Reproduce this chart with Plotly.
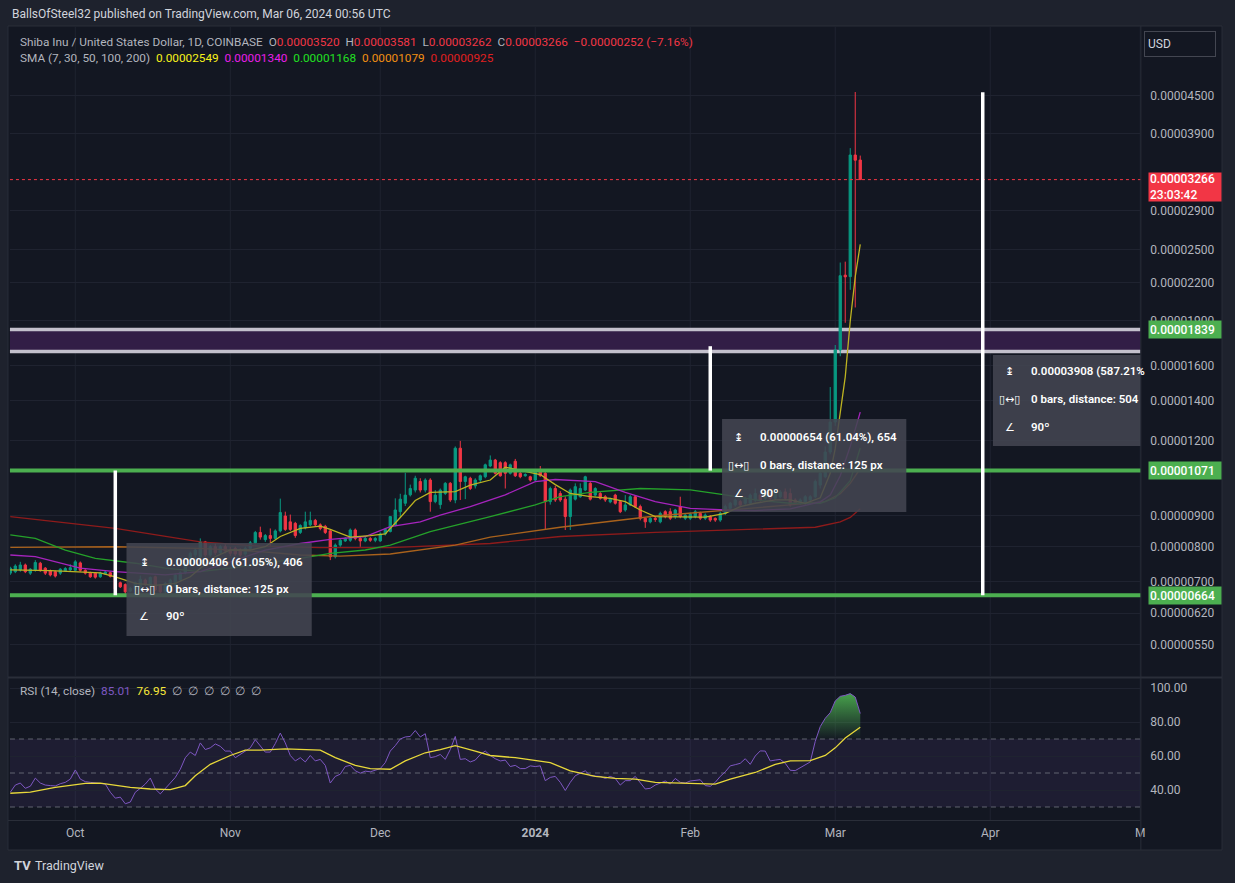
import math
import pandas as pd
import plotly.graph_objects as go

W, H = 1235, 883
def px(x): return x / W
def py(y): return 1 - y / H

# ---------------- data (prices in units of 1e-8 USD) ----------------
SC = 1e-8
START = '2023-09-18'
opens = [723,727,732,746,723,732,751,737,730,727,
         723,730,732,731,752,731,723,723,713,721,
         724,720,697,692,675,680,686,704,688,713,
         690,673,686,686,705,724,751,775,770,815,
         775,800,782,800,787,795,790,778,795,812,
         845,822,835,826,850,900,880,875,845,860,
         870,885,870,865,850,770,805,818,820,853,
         826,818,826,820,818,840,848,870,915,945,
         976,994,1027,994,1033,951,940,981,1020,957,
         1167,1027,1040,1010,1033,1046,1090,1115,1104,1104,
         1060,1110,1060,1050,1046,1033,1073,1060,951,1000,
         981,960,898,960,969,994,1020,975,981,969,
         950,975,951,921,939,969,933,892,880,892,
         880,915,915,898,933,892,892,898,909,892,
         898,892,886,909,927,939,951,945,945,957,
         975,963,981,963,969,987,981,957,945,945,
         957,969,1013,1046,1150,1290,1700,2265,2252,3589,
         3520]
highs = [741,748,755,750,737,760,755,740,733,730,
         737,740,748,760,756,734,727,726,727,730,
         727,722,700,695,686,700,716,708,714,716,
         693,699,708,722,728,755,785,795,826,818,
         805,810,805,808,800,800,795,800,818,850,
         864,840,858,855,962,915,905,880,872,915,
         915,890,875,870,853,810,824,830,858,858,
         832,832,830,830,845,860,900,963,980,1062,
         1015,1050,1040,1040,1040,994,1000,1025,1025,1175,
         1200,1050,1046,1040,1055,1100,1135,1120,1110,1110,
         1100,1120,1070,1060,1050,1075,1090,1065,1007,1010,
         990,970,1000,1020,1020,1050,1025,1005,990,975,
         965,980,955,975,975,975,940,895,898,898,
         915,920,927,925,969,910,912,921,915,909,
         903,895,915,940,950,963,957,969,981,1000,
         981,994,987,1000,994,1000,1000,963,963,975,
         975,1035,1080,1175,1475,1733,2377,2385,3685,4569,
         3581]
lows = [718,723,727,723,718,727,727,718,714,711,
        718,727,729,728,727,719,710,708,710,718,
        711,666,683,668,672,677,683,688,685,675,
        668,665,683,683,700,720,745,765,765,768,
        770,775,778,780,772,772,770,772,790,808,
        822,815,800,822,845,850,850,828,840,855,
        865,865,852,840,760,765,800,815,815,820,
        800,814,815,814,815,835,845,865,895,935,
        970,985,985,985,915,945,925,975,950,945,
        957,960,994,1000,1025,1040,1085,1055,1046,1000,
        1055,1045,1040,1046,1027,1027,1046,853,940,950,
        950,853,853,955,965,990,955,970,958,950,
        945,940,910,915,935,928,885,860,875,880,
        875,892,886,890,892,886,886,892,886,886,
        880,880,880,903,920,933,933,939,939,950,
        950,957,957,957,963,957,933,939,939,939,
        950,963,1000,1040,1140,1271,1660,1887,2141,2001,
        3262]
closes = [737,743,746,727,734,753,730,723,718,715,
          734,736,738,755,731,723,713,712,723,726,
          714,680,686,673,682,697,706,692,711,678,
          673,695,704,718,724,751,780,790,815,775,
          800,782,800,787,780,778,775,795,812,845,
          830,835,826,850,912,855,855,835,868,880,
          885,870,858,845,770,805,820,826,853,826,
          818,826,820,826,840,855,898,921,960,975,
          1000,1040,994,1033,951,975,994,1020,957,1167,
          1027,1046,1000,1033,1050,1095,1115,1060,1050,1060,
          1095,1050,1046,1055,1033,1070,1050,951,1000,957,
          957,898,994,1007,1000,1046,960,1000,963,957,
          960,945,915,939,969,933,892,880,892,888,
          909,898,892,921,898,903,906,915,892,903,
          886,886,909,933,945,957,939,963,975,981,
          957,987,963,994,987,963,939,945,957,969,
          969,1027,1060,1150,1290,1700,2260,2250,3589,3518,
          3266]

# moving averages (day index since START, value in 1e-8)
sma7_idx = [0,8,18,21,25,29,33,36,38,41,44,48,51,54,58,62,64,66,68,72,75,78,81,84,89,92,96,99,102,106,
            109,112,116,120,123,126,129,136,139,143,146,149,153,156,159,162,164,165,166,167,168,169,170]
sma7_val = [732,730,724,713,695,690,695,713,737,770,790,790,800,832,858,866,855,843,830,835,840,895,955,985,988,1013,1033,1085,1073,1055,
            1015,981,969,963,951,921,898,896,896,909,933,945,957,957,945,965,1060,1166,1351,1534,1900,2251,2549]
sma30_idx = [0,5,14,21,31,38,44,51,58,64,71,76,82,86,92,99,105,109,117,123,129,136,143,149,156,162,164,166,168,170]
sma30_val = [775,770,737,727,718,727,755,790,810,823,832,864,880,903,933,976,1027,1035,1027,985,951,927,921,919,925,950,975,1050,1175,1340]
sma50_idx = [0,5,11,17,25,31,38,44,51,58,64,71,76,82,84,96,105,110,116,126,136,143,149,156,162,165,168,170]
sma50_val = [837,826,790,765,751,737,727,737,751,765,780,790,805,837,848,898,939,969,985,1000,995,976,957,945,945,965,1030,1168]
sma100_idx = [0,21,38,50,58,66,76,89,96,110,129,143,156,163,166,168,170]
sma100_val = [798,800,795,785,775,772,778,805,830,862,900,919,939,951,980,1020,1079]
sma200_idx = [0,21,38,50,62,76,96,110,129,149,161,166,168,170]
sma200_val = [898,858,815,802,797,797,810,832,845,855,862,880,895,925]

rsi = [38.7,42.9,44.1,41.0,42.2,47.0,44.1,42.9,42.6,42.4,
       43.7,44.5,46.4,51.8,46.4,44.9,44.5,44.3,44.1,43.5,
       38.7,35.2,35.8,31.9,32.9,38.7,41.0,43.5,47.0,40.6,
       37.7,40.6,44.1,47.4,52.2,59.0,62.3,60.3,67.7,63.8,
       64.8,67.1,65.7,62.9,62.9,59.0,60.9,62.9,64.8,69.6,
       65.7,62.3,62.3,67.3,73.5,67.7,60.3,57.1,59.0,56.5,
       60.3,57.1,58.0,54.5,44.1,48.0,49.3,53.8,54.5,51.3,
       49.9,51.1,50.7,51.8,52.6,56.1,62.9,66.1,70.0,71.2,
       71.5,75.0,71.2,73.1,59.0,59.6,60.9,58.0,63.8,71.5,
       58.0,58.4,56.5,57.6,60.9,62.9,60.3,58.4,57.1,57.6,
       53.8,54.5,52.6,52.6,54.2,53.8,54.2,45.5,47.4,48.0,
       44.5,39.7,44.5,48.4,49.9,51.3,48.4,48.4,48.0,46.8,
       48.0,46.8,42.9,45.5,45.5,48.0,44.1,40.6,41.0,42.9,
       44.1,45.3,43.5,46.8,44.5,44.1,45.3,45.8,46.0,42.6,
       42.2,44.5,48.0,50.7,54.2,54.9,55.7,58.4,55.1,60.0,
       63.0,62.9,57.1,57.6,58.0,55.7,51.6,51.4,53.2,54.5,
       56.5,68.6,77.3,82.2,85.5,92.4,95.1,95.7,96.7,94.7,
       85.01]
rsi_ma_idx = [0,4,9,13,15,18,21,24,28,32,35,37,40,44,47,50,55,58,62,65,69,72,76,79,83,86,89,93,96,101,
              104,108,112,117,121,125,129,135,141,144,149,153,156,160,163,165,167,170]
rsi_ma_val = [38.1,38.7,41.6,42.9,43.9,44.1,42.9,41.6,40.6,40.2,42.6,48.4,55.1,60.3,63.4,63.4,64.2,63.8,63.4,59.0,
              54.5,52.6,52.2,57.1,61.9,63.8,66.1,62.9,60.3,59.0,57.6,56.1,51.3,48.0,46.8,46.4,44.5,44.1,43.5,46.4,
              50.3,55.1,57.1,57.3,60.3,64.8,70.6,76.95]

price_ticks = [4500,3900,2900,2500,2200,1900,1600,1400,1200,900,800,700,620,550]
month_ticks = ['2023-10-01','2023-11-01','2023-12-01','2024-01-01','2024-02-01','2024-03-01','2024-04-01','2024-05-01']
month_text = ['Oct','Nov','Dec','<b>2024</b>','Feb','Mar','Apr','M']
level_low, level_mid = 664, 1071
band_lo, band_hi = 1690, 1839
measure_lines = [('2023-10-09', 664, 1071), ('2024-02-05', 1071, 1725), ('2024-03-30 12:00', 664, 4563)]

# ---------------- figure ----------------
d0 = pd.Timestamp(START)
dates = [d0 + pd.Timedelta(days=i) for i in range(len(closes))]
def dts(idx): return [d0 + pd.Timedelta(days=i) for i in idx]

XR = ['2023-09-17 22:20', '2024-05-01 00:40']
GRID = '#1f2330'
FONT = 'Roboto, Arial, sans-serif'
TXT = '#b2b5be'

fig = go.Figure()
fig.add_trace(go.Candlestick(
    x=dates, open=[v*SC for v in opens], high=[v*SC for v in highs],
    low=[v*SC for v in lows], close=[v*SC for v in closes],
    increasing=dict(line=dict(color='#089981', width=1), fillcolor='#089981'),
    decreasing=dict(line=dict(color='#f23645', width=1), fillcolor='#f23645'),
    whiskerwidth=0, hoverinfo='skip', xaxis='x', yaxis='y'))

for idx, val, col in [(sma200_idx, sma200_val, '#8e1b1b'), (sma100_idx, sma100_val, '#a9621c'),
                      (sma50_idx, sma50_val, '#25a12a'), (sma30_idx, sma30_val, '#a624bd'),
                      (sma7_idx, sma7_val, '#bdb321')]:
    fig.add_trace(go.Scatter(x=dts(idx), y=[v*SC for v in val], mode='lines',
                             line=dict(color=col, width=1.3), hoverinfo='skip', xaxis='x', yaxis='y'))

# RSI overbought gradient fill (clip RSI at 70 for display)
k = next(i for i in range(1, len(rsi)) if rsi[i] > 70 and rsi[i-1] <= 70 and i > 150)
frac = (70 - rsi[k-1]) / (rsi[k] - rsi[k-1])
cross = dates[k-1] + pd.Timedelta(days=frac)
ob_x = [cross] + dates[k:]
ob_y = [70] + rsi[k:]
fig.add_trace(go.Scatter(x=ob_x, y=[70]*len(ob_x), mode='lines', line=dict(width=0),
                         hoverinfo='skip', xaxis='x2', yaxis='y2'))
fig.add_trace(go.Scatter(x=ob_x, y=ob_y, mode='lines', line=dict(width=0), fill='tonexty',
                         fillgradient=dict(type='vertical', start=70, stop=98,
                                           colorscale=[[0, 'rgba(76,175,80,0.02)'], [1, 'rgba(76,175,80,0.95)']]),
                         hoverinfo='skip', xaxis='x2', yaxis='y2'))
fig.add_trace(go.Scatter(x=dates, y=rsi, mode='lines', line=dict(color='#7e57c2', width=1),
                         hoverinfo='skip', xaxis='x2', yaxis='y2'))
fig.add_trace(go.Scatter(x=dts(rsi_ma_idx), y=rsi_ma_val, mode='lines', line=dict(color='#e8d83a', width=1.3),
                         hoverinfo='skip', xaxis='x2', yaxis='y2'))

shapes = []
# chart frame
shapes.append(dict(type='rect', xref='paper', yref='paper', x0=px(8), x1=px(1227), y0=py(850), y1=py(26),
                   fillcolor='#131722', line=dict(color='#2a2e39', width=1), layer='below'))
# vertical month grid (drawn below the zone so the zone hides it)
for m in month_ticks:
    shapes.append(dict(type='line', xref='x', yref='y domain', x0=m, x1=m, y0=0, y1=1,
                       line=dict(color=GRID, width=1), layer='below'))
    shapes.append(dict(type='line', xref='x2', yref='y2 domain', x0=m, x1=m, y0=0, y1=1,
                       line=dict(color=GRID, width=1), layer='below'))
# RSI band 30-70
shapes.append(dict(type='rect', xref='x2 domain', yref='y2', x0=0, x1=1, y0=30, y1=70,
                   fillcolor='rgba(126,87,194,0.10)', line=dict(width=0), layer='below'))
for lv in (70, 50, 30):
    shapes.append(dict(type='line', xref='x2 domain', yref='y2', x0=0, x1=1, y0=lv, y1=lv,
                       line=dict(color='rgba(120,123,134,0.75)', width=1, dash='5px,4px'), layer='below'))
# purple zone
shapes.append(dict(type='rect', xref='x domain', yref='y', x0=0, x1=1, y0=band_lo*SC, y1=band_hi*SC,
                   fillcolor='#321e46', line=dict(width=0), layer='below'))
for lv in (band_lo, band_hi):
    shapes.append(dict(type='line', xref='x domain', yref='y', x0=0, x1=1, y0=lv*SC, y1=lv*SC,
                       line=dict(color='#c3c0cc', width=3.5), layer='below'))
# separators
shapes.append(dict(type='line', xref='paper', yref='paper', x0=px(8), x1=px(1227), y0=py(677.5), y1=py(677.5),
                   line=dict(color='#2a2e39', width=2)))
shapes.append(dict(type='line', xref='paper', yref='paper', x0=px(1145.5), x1=px(1145.5), y0=py(850), y1=py(26),
                   line=dict(color='#2a2e39', width=1)))
shapes.append(dict(type='line', xref='paper', yref='paper', x0=px(8), x1=px(1145), y0=py(820.5), y1=py(820.5),
                   line=dict(color='#2a2e39', width=1)))
# green levels
for lv in (level_mid, level_low):
    shapes.append(dict(type='line', xref='x domain', yref='y', x0=0, x1=1, y0=lv*SC, y1=lv*SC,
                       line=dict(color='#4caf50', width=4), layer='above'))
# current price dotted line
shapes.append(dict(type='line', xref='x domain', yref='y', x0=0, x1=1, y0=closes[-1]*SC, y1=closes[-1]*SC,
                   line=dict(color='#f23645', width=1, dash='dot'), layer='above'))
# measure lines
for d, a, b in measure_lines:
    shapes.append(dict(type='line', xref='x', yref='y', x0=d, x1=d, y0=a*SC, y1=b*SC,
                       line=dict(color='#ffffff', width=3.5), layer='above'))
# measurement info boxes
boxes = [(127, 313, 543, 636), (725, 910, 419, 512), (997, 1145, 355, 446)]
for x0, x1, y0, y1 in boxes:
    shapes.append(dict(type='rect', xref='paper', yref='paper', x0=px(x0), x1=px(x1), y0=py(y1), y1=py(y0),
                       fillcolor='rgba(67,70,81,0.88)', line=dict(width=0), layer='above'))

ann = []
def A(x, y, text, size=12, color='#d1d4dc', anchor='left', **kw):
    d = dict(xref='paper', yref='paper', x=px(x), y=py(y), text=text, showarrow=False,
             xanchor=anchor, yanchor='middle', font=dict(family=FONT, size=size, color=color))
    d.update(kw)
    ann.append(d)

A(10, 14, 'BallsOfSteel32 published on TradingView.com, Mar 06, 2024 00:56 UTC', size=12, color='#d1d4dc')

def fp(v): return f'{v*SC:.8f}'
chg = closes[-1] - closes[-2]
pct = chg / closes[-2] * 100
red = '#f23645'
NB = '\u00a0'
l1 = (f'<span style="color:#b2b5be">Shiba Inu / United States Dollar, 1D, COINBASE</span>{NB}{NB}'
      f'<span style="color:#b2b5be">O</span><span style="color:{red}">{fp(opens[-1])}</span>{NB}{NB}'
      f'<span style="color:#b2b5be">H</span><span style="color:{red}">{fp(highs[-1])}</span>{NB}{NB}'
      f'<span style="color:#b2b5be">L</span><span style="color:{red}">{fp(lows[-1])}</span>{NB}{NB}'
      f'<span style="color:#b2b5be">C</span><span style="color:{red}">{fp(closes[-1])}</span>{NB}{NB}'
      f'<span style="color:{red}">\u2212{abs(chg)*SC:.8f} (\u2212{abs(pct):.2f}%)</span>')
A(18, 42, l1, size=11.8)
l2 = (f'<span style="color:#b2b5be">SMA (7, 30, 50, 100, 200)</span>{NB}{NB}'
      f'<span style="color:#f7f21a">{fp(sma7_val[-1])}</span>{NB}{NB}'
      f'<span style="color:#e91ee9">{fp(sma30_val[-1])}</span>{NB}{NB}'
      f'<span style="color:#22e022">{fp(sma50_val[-1])}</span>{NB}{NB}'
      f'<span style="color:#f18f12">{fp(sma100_val[-1])}</span>{NB}{NB}'
      f'<span style="color:#e02020">{fp(sma200_val[-1])}</span>')
A(18, 58, l2, size=11.8)
l3 = (f'<span style="color:#b2b5be">RSI (14, close)</span>{NB}{NB}'
      f'<span style="color:#7e57c2">{rsi[-1]:.2f}</span>{NB}{NB}'
      f'<span style="color:#f7e83a">{rsi_ma_val[-1]:.2f}</span>{NB}{NB}'
      f'<span style="color:#b2b5be">\u2205{NB}{NB}\u2205{NB}{NB}\u2205{NB}{NB}\u2205{NB}{NB}\u2205{NB}{NB}\u2205</span>')
A(18, 691, l3, size=11.8)

# USD button
A(1149, 43.5, 'USD', size=12, color='#d1d4dc', bordercolor='#434651', borderwidth=1, borderpad=3,
  width=64, height=18, align='left', bgcolor='#131722')

# price tags
def tag(val, bg, text=None, h=15, yanchor='middle', yshift=0):
    ann.append(dict(xref='paper', yref='y', x=px(1153), y=math.log10(val*SC), text=text or fp(val),
                    showarrow=False, xanchor='left', yanchor=yanchor, yshift=yshift, bgcolor=bg,
                    width=70, height=h, borderpad=1, align='left',
                    font=dict(family=FONT, size=12, color='#ffffff', weight=500)))
tag(band_hi, '#4caf50')
tag(level_mid, '#4caf50')
tag(level_low, '#4caf50')
tag(closes[-1], '#f23645', text=f'{fp(closes[-1])}<br>23:03:42', h=26, yanchor='top', yshift=8)

# measurement box texts
rows = [
    [(145, 562, '\u21a8'), (165, 562, '0.00000406 (61.05%), 406'),
     (145, 589, '\u25af\u2194\u25af'), (165, 589, '0 bars, distance: 125 px'),
     (145, 616, '\u2220'), (165, 616, '90\u00ba')],
    [(742, 437, '\u21a8'), (761, 437, '0.00000654 (61.04%), 654'),
     (742, 465, '\u25af\u2194\u25af'), (761, 465, '0 bars, distance: 125 px'),
     (742, 493, '\u2220'), (761, 493, '90\u00ba')],
    [(1014, 371, '\u21a8'), (1033, 371, '0.00003908 (587.21%'),
     (1014, 399, '\u25af\u2194\u25af'), (1033, 399, '0 bars, distance: 504'),
     (1014, 427, '\u2220'), (1033, 427, '90\u00ba')],
]
for box in rows:
    for (x, y, t) in box:
        if len(t) <= 3 and not t.startswith('90'):
            ann.append(dict(xref='paper', yref='paper', x=px(x), y=py(y), text=t, showarrow=False,
                            xanchor='center', yanchor='middle',
                            font=dict(family='DejaVu Sans', size=11, color='#ffffff')))
        else:
            A(x, y, t, size=11.5, color='#ffffff', font=dict(family=FONT, size=11.5, color='#ffffff', weight=600))

# footer logo
A(12, 865, '<b>TV</b>', size=13, color='#d1d4dc')
A(33, 865, 'TradingView', size=12.5, color='#d1d4dc')

fig.update_layout(
    width=W, height=H, margin=dict(l=0, r=0, t=0, b=0),
    paper_bgcolor='#1e222d', plot_bgcolor='rgba(0,0,0,0)',
    showlegend=False, boxgap=0.35, hovermode=False, dragmode=False,
    font=dict(family=FONT, color=TXT, size=12),
    xaxis=dict(domain=[px(10), px(1145)], range=XR, type='date', anchor='y', tickvals=month_ticks,
               showticklabels=False, showgrid=False, zeroline=False,
               rangeslider=dict(visible=False), showline=False, ticks=''),
    yaxis=dict(domain=[py(676), py(27)], type='log',
               range=[math.log10(4.875e-6), math.log10(5.861e-5)], side='right',
               tickvals=[v*SC for v in price_ticks], ticktext=[fp(v) for v in price_ticks],
               showgrid=True, gridcolor=GRID, zeroline=False, ticks='', ticklabelstandoff=9,
               tickfont=dict(family=FONT, size=12, color=TXT), showline=False, anchor='x'),
    xaxis2=dict(domain=[px(10), px(1145)], range=XR, type='date', anchor='y2', tickvals=month_ticks,
                ticktext=month_text, showgrid=False, zeroline=False, ticks='',
                ticklabelstandoff=4, tickfont=dict(family=FONT, size=12, color=TXT), showline=False),
    yaxis2=dict(domain=[py(820), py(679)], range=[22.35, 105.3], side='right',
                tickvals=[40, 60, 80, 100], ticktext=['40.00', '60.00', '80.00', '100.00'],
                showgrid=True, gridcolor=GRID, zeroline=False, ticks='', ticklabelstandoff=9,
                tickfont=dict(family=FONT, size=12, color=TXT), showline=False, anchor='x2'),
    shapes=shapes, annotations=ann,
)

fig.write_html('out.html', config={'displayModeBar': False},
               post_script="document.body.style.margin='0';document.body.style.overflow='hidden';")
